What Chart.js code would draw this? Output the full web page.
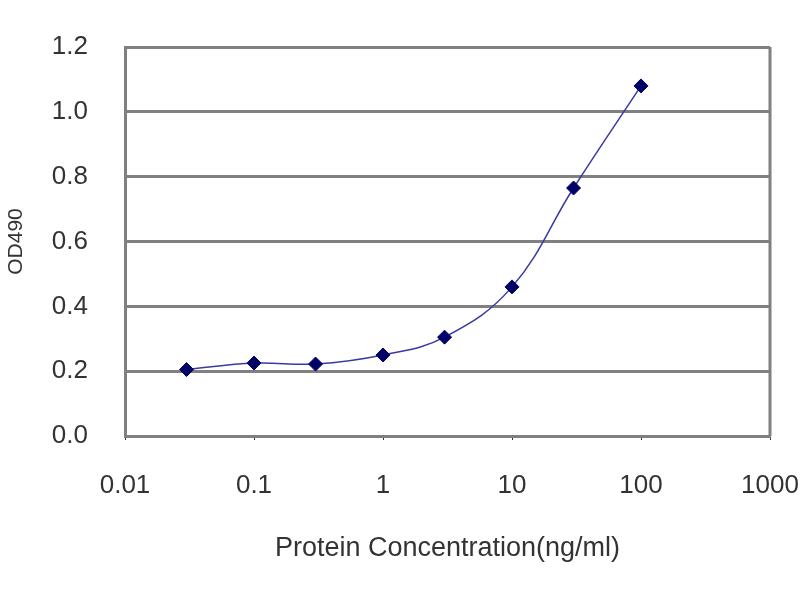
<!DOCTYPE html>
<html>
<head>
<meta charset="utf-8">
<script src="https://cdn.jsdelivr.net/npm/chart.js@4/dist/chart.umd.min.js"></script>
<style>
  body { margin: 0; background: #fff; }
  #wrap { width: 800px; height: 600px; }
</style>
</head>
<body>
<div id="wrap"><canvas id="odChart" width="800" height="600"></canvas></div>
<script>
var concentrations = [0.03, 0.1, 0.3, 1, 3, 10, 30, 100];
var odValues = [0.205, 0.225, 0.222, 0.25, 0.305, 0.46, 0.765, 1.08];
var xTickValues = [0.01, 0.1, 1, 10, 100, 1000];
var xTickLabels = ['0.01', '0.1', '1', '10', '100', '1000'];
var yTickLabels = ['0.0', '0.2', '0.4', '0.6', '0.8', '1.0', '1.2'];

var textColor = '#333333';
var gridColor = '#808080';

var points = concentrations.map(function (c, i) {
    return { x: c, y: odValues[i] };
});

// right edge of the plot box
var boxBorder = {
    id: 'boxBorder',
    afterDraw: function (chart) {
        var a = chart.chartArea;
        var c = chart.ctx;
        c.save();
        c.strokeStyle = gridColor;
        c.lineWidth = 3;
        c.beginPath();
        c.moveTo(a.right, a.top);
        c.lineTo(a.right, a.bottom);
        c.stroke();
        c.restore();
    }
};

var ctx = document.getElementById('odChart');
var myChart = new Chart(ctx, {
    type: 'line',
    data: {
        datasets: [{
            data: points,
            borderColor: '#3a3aa0',
            borderWidth: 1.5,
            tension: 0.4,
            pointStyle: 'rectRot',
            pointRadius: 7,
            pointBackgroundColor: '#000066',
            pointBorderColor: '#000066',
            pointBorderWidth: 1
        }]
    },
    plugins: [boxBorder],
    options: {
        responsive: false,
        animation: false,
        layout: { padding: { top: 47, right: 30, bottom: 31, left: 0 } },
        plugins: {
            legend: { display: false },
            tooltip: { enabled: false }
        },
        scales: {
            x: {
                type: 'logarithmic',
                min: 0.01,
                max: 1000,
                afterBuildTicks: function (scale) {
                    scale.ticks = xTickValues.map(function (v) { return { value: v }; });
                },
                afterFit: function (scale) {
                    scale.height = 133;
                    scale.paddingLeft = 0;
                    scale.paddingRight = 0;
                },
                ticks: {
                    autoSkip: false,
                    maxRotation: 0,
                    padding: 30,
                    color: textColor,
                    font: { family: 'Liberation Sans', size: 26 },
                    callback: function (value, index) { return xTickLabels[index]; }
                },
                grid: {
                    drawOnChartArea: false,
                    drawTicks: true,
                    tickLength: 4,
                    color: '#333333'
                },
                border: { display: true, color: gridColor, width: 3 },
                title: {
                    display: true,
                    text: 'Protein Concentration(ng/ml)',
                    color: textColor,
                    font: { family: 'Liberation Sans', size: 27 }
                }
            },
            y: {
                min: 0,
                max: 1.2,
                afterFit: function (scale) {
                    scale.width = 125;
                    scale.paddingTop = 0;
                    scale.paddingBottom = 0;
                },
                ticks: {
                    stepSize: 0.2,
                    padding: 37,
                    color: textColor,
                    font: { family: 'Liberation Sans', size: 26 },
                    callback: function (value, index) { return yTickLabels[index]; }
                },
                grid: {
                    drawTicks: false,
                    color: gridColor,
                    lineWidth: 3
                },
                border: { display: true, color: gridColor, width: 3 },
                title: {
                    display: true,
                    text: 'OD490',
                    color: textColor,
                    font: { family: 'Liberation Sans', size: 21 }
                }
            }
        }
    }
});
</script>
</body>
</html>
